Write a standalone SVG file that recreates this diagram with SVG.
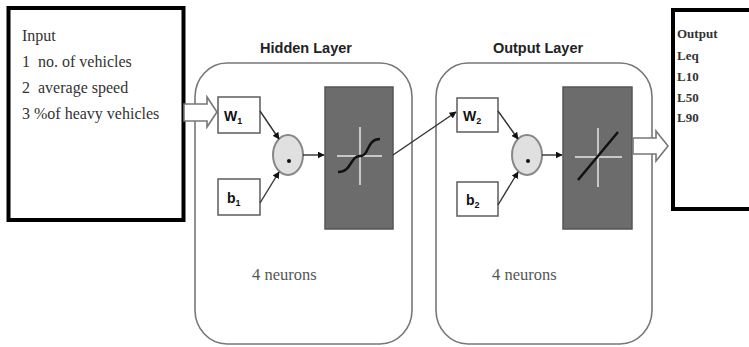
<svg xmlns="http://www.w3.org/2000/svg" width="749" height="347" viewBox="0 0 749 347">
<style>
.io{fill:#fff;stroke:#000;stroke-width:4}
.layer{fill:#fff;stroke:#777;stroke-width:1.6}
.wb{fill:#fff;stroke:#666;stroke-width:1.6}
.sum{fill:#e0e0e0;stroke:#888;stroke-width:2}
.tf{fill:#6c6c6c;stroke:#555;stroke-width:1.5}
.cross{stroke:#c8c8c8;stroke-width:2;fill:none}
.curve{stroke:#111;stroke-width:2.5;fill:none}
.hollow{fill:#fff;stroke:#777;stroke-width:1.6}
.link{stroke:#333;stroke-width:1.4;fill:none;marker-end:url(#ah)}
.ser{font-family:"Liberation Serif",serif;fill:#333}
.title{font-family:"Liberation Sans",Arial,sans-serif;font-weight:bold;font-size:14.5px;fill:#222;text-anchor:middle}
.wlab{font-family:"Liberation Sans",Arial,sans-serif;font-weight:bold;font-size:14px;fill:#111}
.sub{font-size:9px}
.neur{font-family:"Liberation Serif",serif;font-size:16.5px;fill:#555}
</style>
<defs>
<marker id="ah" viewBox="0 0 10 10" refX="9" refY="5" markerWidth="7" markerHeight="7" markerUnits="userSpaceOnUse" orient="auto">
<path d="M0,0 L10,5 L0,10 z" fill="#111"/>
</marker>
</defs>

<g id="input">
<rect class="io" x="8.5" y="8" width="175" height="212"/>
<text class="ser" font-size="16" x="22" y="41">Input</text>
<text class="ser" font-size="16" x="22" y="67">1&#160; no. of vehicles</text>
<text class="ser" font-size="16" x="22" y="93">2&#160; average speed</text>
<text class="ser" font-size="16" x="22" y="119">3 %of heavy vehicles</text>
</g>

<g id="hidden-layer">
<rect class="layer" x="195" y="63" width="217" height="281" rx="32" ry="34"/>
<text class="title" x="306" y="53">Hidden Layer</text>
<text class="neur" x="252" y="280">4 neurons</text>
</g>

<g id="w1">
<rect class="wb" x="218" y="97" width="42" height="36"/>
<text class="wlab" x="224" y="121">W<tspan class="sub" dy="3">1</tspan></text>
</g>
<g id="b1">
<rect class="wb" x="218" y="179" width="42" height="36"/>
<text class="wlab" x="227" y="203">b<tspan class="sub" dy="3">1</tspan></text>
</g>
<g id="sum1">
<ellipse class="sum" cx="288" cy="155" rx="15" ry="20"/>
<circle cx="289" cy="161" r="2" fill="#111"/>
</g>
<g id="tf1">
<rect class="tf" x="325" y="87" width="68" height="142"/>
<path class="cross" d="M360,127 V185 M337,156 H382"/>
<path class="curve" d="M338,172 C352,172 350,156 360,156 C370,156 366,139 380,139"/>
</g>

<g id="output-layer">
<rect class="layer" x="436" y="63" width="216" height="281" rx="32" ry="34"/>
<text class="title" x="538" y="53">Output Layer</text>
<text class="neur" x="492" y="280">4 neurons</text>
</g>

<g id="w2">
<rect class="wb" x="457" y="98" width="41" height="34"/>
<text class="wlab" x="463" y="121">W<tspan class="sub" dy="3">2</tspan></text>
</g>
<g id="b2">
<rect class="wb" x="457" y="182" width="41" height="34"/>
<text class="wlab" x="466" y="205">b<tspan class="sub" dy="3">2</tspan></text>
</g>
<g id="sum2">
<ellipse class="sum" cx="527" cy="155" rx="15" ry="20"/>
<circle cx="528" cy="161" r="2" fill="#111"/>
</g>
<g id="tf2">
<rect class="tf" x="563" y="87" width="69" height="142"/>
<path class="cross" d="M598,128 V187 M575,157 H622"/>
<path class="curve" d="M578,180 L618,132"/>
</g>

<g id="output">
<rect class="io" x="673" y="10" width="90" height="199"/>
<g class="ser" font-size="13" font-weight="bold" fill="#222">
<text x="677" y="38">Output</text>
<text x="677" y="60">Leq</text>
<text x="677" y="81">L10</text>
<text x="677" y="102">L50</text>
<text x="677" y="122">L90</text>
</g>
</g>

<g id="connectors">
<polygon class="hollow" points="184,104 207,104 207,97 217,112 207,127 207,121 184,121"/>
<polygon class="hollow" points="633,138 656,138 656,131 668,146 656,161 656,154 633,154"/>
<path class="link" d="M260,111 L279,139"/>
<path class="link" d="M260,203 L279,172"/>
<path class="link" d="M303,155 L324,155"/>
<path class="link" d="M393,155 L456,112"/>
<path class="link" d="M498,111 L518,139"/>
<path class="link" d="M498,205 L518,172"/>
<path class="link" d="M542,155 L562,155"/>
</g>
</svg>
